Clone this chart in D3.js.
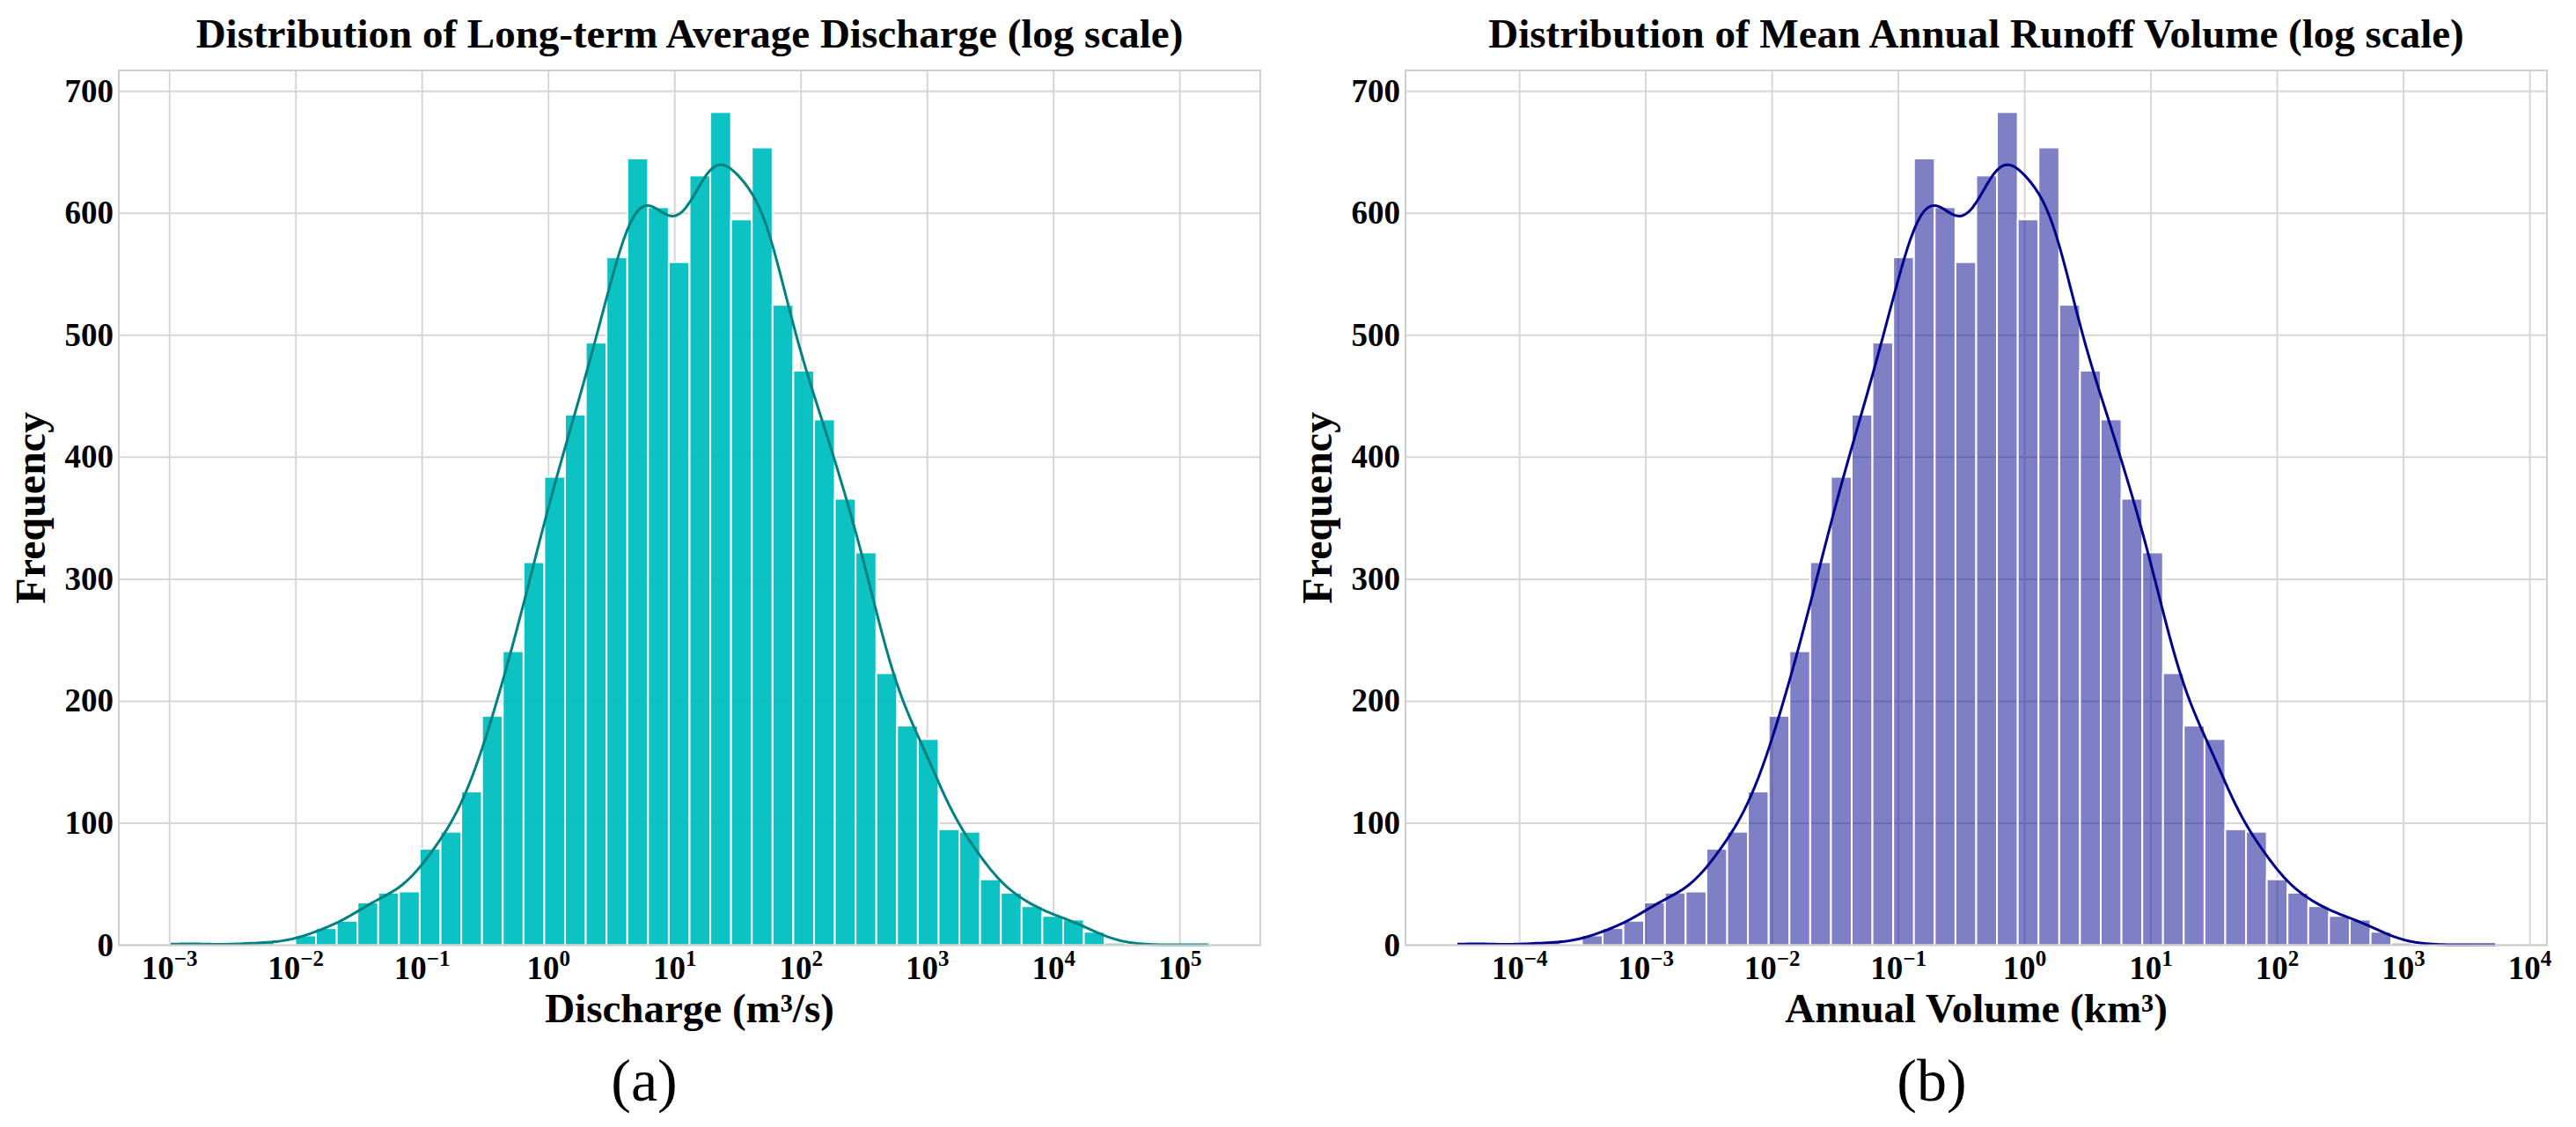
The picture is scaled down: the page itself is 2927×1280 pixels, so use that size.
<!DOCTYPE html>
<html>
<head>
<meta charset="utf-8">
<script src="https://cdn.jsdelivr.net/npm/d3@7/dist/d3.min.js"></script>
<style>
  body { margin: 0; background: #fff; }
  text { font-family: 'Liberation Serif', 'Times New Roman', serif; font-weight: bold; fill: #000; }
  text.tag { font-weight: normal; }
</style>
</head>
<body>
<svg id="chart" width="2927" height="1280"></svg>
<script>
// 50 log-spaced bins, same counts in both panels (volume = discharge * const)
const binCounts = [
  2, 1, 0, 1, 3, 1, 8, 14, 20, 35,
  43, 44, 79, 93, 126, 188, 241, 314, 384, 435,
  494, 564, 645, 605, 560, 631, 683, 595, 654, 525,
  471, 431, 366, 322, 223, 180, 169, 95, 93, 54,
  43, 32, 24, 21, 11, 2, 1, 0, 0, 1
]
const dischargeRange = [0.00102, 168000]
const volumeRange = [0.0000322, 5300]
const dischargeTicks = [-3, -2, -1, 0, 1, 2, 3, 4, 5]
const volumeTicks = [-4, -3, -2, -1, 0, 1, 2, 3, 4]
const yTicks = [0, 100, 200, 300, 400, 500, 600, 700]

const panels = [
  {
    title: 'Distribution of Long-term Average Discharge (log scale)',
    xLabel: 'Discharge (m³/s)',
    tag: '(a)',
    range: dischargeRange,
    ticks: dischargeTicks,
    left: 135,
    tagX: 732,
    fill: '#00bfbf',
    fillOpacity: 0.95,
    line: '#008080'
  },
  {
    title: 'Distribution of Mean Annual Runoff Volume (log scale)',
    xLabel: 'Annual Volume (km³)',
    tag: '(b)',
    range: volumeRange,
    ticks: volumeTicks,
    left: 1597,
    tagX: 2195,
    fill: '#00008b',
    fillOpacity: 0.5,
    line: '#00008b'
  }
]

const axW = 1297
const axTop = 80
const axBottom = 1073.5
const nBins = binCounts.length

function kdeCurve(centers, counts, lo, hi, binW) {
  // gaussian kde on the binned sample, scott bandwidth, scaled to counts
  const n = d3.sum(counts)
  const mean = d3.sum(centers, (c, i) => c * counts[i]) / n
  const variance = d3.sum(centers, (c, i) => counts[i] * (c - mean) ** 2) / (n - 1)
  const bw = Math.sqrt(variance) * Math.pow(n, -0.2)
  const pts = []
  for (let k = 0; k <= 300; k++) {
    const x = lo + (hi - lo) * k / 300
    let dens = 0
    centers.forEach((c, i) => {
      const u = (x - c) / bw
      dens += counts[i] * Math.exp(-0.5 * u * u)
    })
    dens = dens / (n * bw * Math.sqrt(2 * Math.PI))
    pts.push([x, dens * n * binW])
  }
  return pts
}

function buildPanel(svg, p) {
  const g = svg.append('g')
  const lmin = Math.log10(p.range[0])
  const lmax = Math.log10(p.range[1])
  const span = lmax - lmin
  const binW = span / nBins

  const x = d3.scaleLog()
    .domain([Math.pow(10, lmin - 0.05 * span), Math.pow(10, lmax + 0.05 * span)])
    .range([p.left, p.left + axW])
  const y = d3.scaleLinear()
    .domain([0, d3.max(binCounts) * 1.05])
    .range([axBottom, axTop])

  // grid
  g.selectAll('line.vgrid')
    .data(p.ticks)
    .enter()
    .append('line')
    .attr('x1', (d) => x(Math.pow(10, d)))
    .attr('x2', (d) => x(Math.pow(10, d)))
    .attr('y1', axTop)
    .attr('y2', axBottom)
    .attr('stroke', '#d6d6d6')
    .attr('stroke-width', 2)
  g.selectAll('line.hgrid')
    .data(yTicks)
    .enter()
    .append('line')
    .attr('x1', p.left)
    .attr('x2', p.left + axW)
    .attr('y1', (d) => y(d))
    .attr('y2', (d) => y(d))
    .attr('stroke', '#d6d6d6')
    .attr('stroke-width', 2)

  // bars
  const bins = binCounts.map((c, i) => ({
    x0: Math.pow(10, lmin + i * binW),
    x1: Math.pow(10, lmin + (i + 1) * binW),
    count: c
  }))
  g.selectAll('rect.bar')
    .data(bins.filter((d) => d.count > 0))
    .enter()
    .append('rect')
    .attr('x', (d) => x(d.x0))
    .attr('width', (d) => x(d.x1) - x(d.x0))
    .attr('y', (d) => y(d.count))
    .attr('height', (d) => y(0) - y(d.count))
    .attr('fill', p.fill)
    .attr('fill-opacity', p.fillOpacity)
    .attr('stroke', '#fff')
    .attr('stroke-width', 2)

  // kde line
  const centers = binCounts.map((c, i) => lmin + (i + 0.5) * binW)
  const pts = kdeCurve(centers, binCounts, lmin, lmax, binW)
  const line = d3.line()
    .x((d) => x(Math.pow(10, d[0])))
    .y((d) => y(d[1]))
  g.append('path')
    .datum(pts)
    .attr('d', line)
    .attr('fill', 'none')
    .attr('stroke', p.line)
    .attr('stroke-width', 3)

  // frame
  g.append('rect')
    .attr('x', p.left)
    .attr('y', axTop)
    .attr('width', axW)
    .attr('height', axBottom - axTop)
    .attr('fill', 'none')
    .attr('stroke', '#cfcfcf')
    .attr('stroke-width', 2)

  // y tick labels
  g.selectAll('text.ytick')
    .data(yTicks)
    .enter()
    .append('text')
    .attr('x', p.left - 6)
    .attr('y', (d) => y(d) + 12)
    .attr('text-anchor', 'end')
    .attr('font-size', 37)
    .text((d) => d)

  // x tick labels, 10^k
  const xt = g.selectAll('text.xtick')
    .data(p.ticks)
    .enter()
    .append('text')
    .attr('x', (d) => x(Math.pow(10, d)))
    .attr('y', 1112)
    .attr('text-anchor', 'middle')
    .attr('font-size', 37)
  xt.append('tspan').text('10')
  xt.append('tspan')
    .attr('dy', -15)
    .attr('font-size', 25)
    .text((d) => (d < 0 ? '\u2212' + Math.abs(d) : d))

  // titles and labels
  g.append('text')
    .attr('x', p.left + axW / 2)
    .attr('y', 54)
    .attr('text-anchor', 'middle')
    .attr('font-size', 47)
    .text(p.title)
  g.append('text')
    .attr('x', p.left + axW / 2)
    .attr('y', 1161)
    .attr('text-anchor', 'middle')
    .attr('font-size', 47)
    .text(p.xLabel)
  g.append('text')
    .attr('transform', 'translate(' + (p.left - 84) + ',' + (axTop + axBottom) / 2 + ') rotate(-90)')
    .attr('text-anchor', 'middle')
    .attr('font-size', 48)
    .text('Frequency')
  g.append('text')
    .attr('class', 'tag')
    .attr('x', p.tagX)
    .attr('y', 1250)
    .attr('text-anchor', 'middle')
    .attr('font-size', 68)
    .text(p.tag)
}

const svg = d3.select('#chart')
panels.forEach((p) => buildPanel(svg, p))
</script>
</body>
</html>
